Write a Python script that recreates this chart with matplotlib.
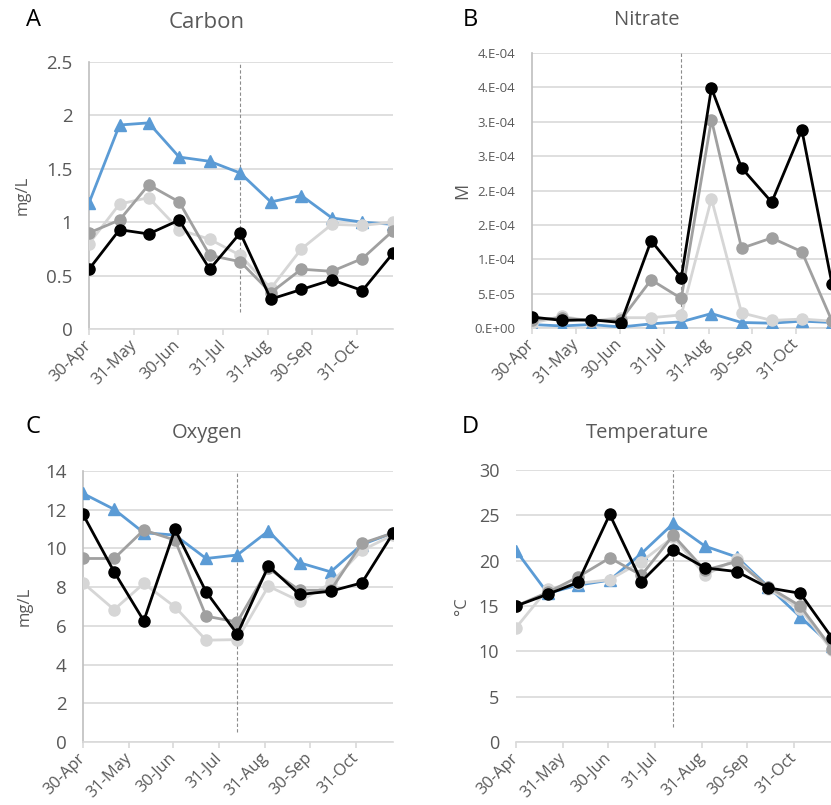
import matplotlib
matplotlib.use("Agg")
import matplotlib.pyplot as plt
import matplotlib.transforms as mtransforms
import numpy as np
import datetime as dt

plt.rcParams['font.family'] = ['Open Sans', 'DejaVu Sans']

# ---- data ----
sample_dates = ["2015-04-30", "2015-05-21", "2015-06-10", "2015-07-01", "2015-07-22",
                "2015-08-12", "2015-09-02", "2015-09-23", "2015-10-14", "2015-11-04",
                "2015-11-25"]
tick_dates = ["2015-04-30", "2015-05-31", "2015-06-30", "2015-07-31", "2015-08-31",
              "2015-09-30", "2015-10-31"]
tick_labels = ["30-Apr", "31-May", "30-Jun", "31-Jul", "31-Aug", "30-Sep", "31-Oct"]
marker_date = "2015-08-12"

carbon_blue = [1.18, 1.91, 1.93, 1.61, 1.57, 1.46, 1.19, 1.25, 1.04, 1.00, 0.98]
carbon_light = [0.80, 1.17, 1.23, 0.93, 0.84, 0.69, 0.38, 0.75, 0.98, 0.97, 1.00]
carbon_mid = [0.90, 1.02, 1.35, 1.19, 0.69, 0.63, 0.34, 0.56, 0.54, 0.66, 0.92]
carbon_black = [0.56, 0.93, 0.89, 1.02, 0.56, 0.90, 0.28, 0.37, 0.46, 0.36, 0.71]

nitrate_blue = [0.05e-4, 0.03e-4, 0.05e-4, 0.015e-4, 0.06e-4, 0.09e-4, 0.21e-4, 0.08e-4, 0.07e-4, 0.10e-4, 0.08e-4]
nitrate_light = [0.07e-4, 0.17e-4, 0.10e-4, 0.15e-4, 0.15e-4, 0.19e-4, 1.88e-4, 0.22e-4, 0.11e-4, 0.13e-4, 0.10e-4]
nitrate_mid = [0.12e-4, 0.15e-4, 0.10e-4, 0.12e-4, 0.70e-4, 0.43e-4, 3.03e-4, 1.16e-4, 1.31e-4, 1.11e-4, 0.10e-4]
nitrate_black = [0.16e-4, 0.11e-4, 0.12e-4, 0.08e-4, 1.27e-4, 0.73e-4, 3.49e-4, 2.33e-4, 1.83e-4, 2.88e-4, 0.64e-4]
nitrate_ticks = [0, 0.5e-4, 1.0e-4, 1.5e-4, 2.0e-4, 2.5e-4, 3.0e-4, 3.5e-4, 4.0e-4]
nitrate_tick_labels = ["0.E+00", "5.E-05", "1.E-04", "2.E-04", "2.E-04", "3.E-04",
                       "3.E-04", "4.E-04", "4.E-04"]

oxygen_blue = [12.84, 12.02, 10.81, 10.69, 9.48, 9.66, 10.90, 9.26, 8.79, 10.20, 10.80]
oxygen_light = [8.22, 6.84, 8.19, 6.98, 5.26, 5.29, 8.05, 7.28, 8.19, 9.90, 10.69]
oxygen_mid = [9.48, 9.48, 10.95, 10.43, 6.50, 6.20, 8.97, 7.84, 7.84, 10.26, 10.80]
oxygen_black = [11.76, 8.79, 6.26, 10.98, 7.76, 5.57, 9.09, 7.62, 7.79, 8.22, 10.78]

temp_blue = [21.1, 16.4, 17.3, 17.85, 20.8, 24.1, 21.6, 20.4, 17.1, 13.8, 10.6]
temp_light = [12.6, 16.9, 17.5, 17.9, 19.9, 22.6, 18.4, 20.2, 16.9, 14.7, 10.1]
temp_mid = [15.0, 16.5, 18.2, 20.3, 18.4, 22.8, 18.95, 19.9, 17.1, 15.0, 10.3]
temp_black = [15.0, 16.3, 17.6, 25.1, 17.7, 21.2, 19.2, 18.8, 17.0, 16.4, 11.5]

# ---- styling ----
BLUE = "#5B9BD5"
LIGHT = "#D6D6D6"
MID = "#A0A0A0"
BLACK = "#000000"
TXT = "#595959"
GRID = "#D9D9D9"

to_date = lambda s: dt.datetime.strptime(s, "%Y-%m-%d")
xd = [to_date(s) for s in sample_dates]
xt = [to_date(s) for s in tick_dates]
xm = to_date(marker_date)

fig = plt.figure(figsize=(8.31, 8.05), dpi=100)

panels = [
    dict(rect=[89/831, 1-329/805, (393-89)/831, (329-62)/805], letter="A", title="Carbon",
         ylabel="mg/L", series=(carbon_blue, carbon_light, carbon_mid, carbon_black),
         ylim=(0, 2.5), yticks=[0, 0.5, 1, 1.5, 2, 2.5], ylabels=["0", "0.5", "1", "1.5", "2", "2.5"],
         ytick_fs=13.5, leftspine=True, letter_xy=(33, 20), title_xy=(207, 23), ylab_x=23, title_fs=16,
         ylab_fs=12, dash_bottom=0.064),
    dict(rect=[532/831, 1-328/805, (832-532)/831, (328-53)/805], letter="B", title="Nitrate",
         ylabel="M", series=(nitrate_blue, nitrate_light, nitrate_mid, nitrate_black),
         ylim=(0, 4e-4), yticks=nitrate_ticks, ylabels=nitrate_tick_labels,
         ytick_fs=9.5, leftspine=True, letter_xy=(470, 20), title_xy=(647, 20), ylab_x=462, title_fs=14.5,
         ylab_fs=13, dash_bottom=0.06),
    dict(rect=[83/831, 1-742/805, (393-83)/831, (742-471)/805], letter="C", title="Oxygen",
         ylabel="mg/L", series=(oxygen_blue, oxygen_light, oxygen_mid, oxygen_black),
         ylim=(0, 14), yticks=[0, 2, 4, 6, 8, 10, 12, 14], ylabels=["0", "2", "4", "6", "8", "10", "12", "14"],
         ytick_fs=13.5, leftspine=True, letter_xy=(33, 427), title_xy=(207, 433), ylab_x=25, title_fs=14.5,
         ylab_fs=12, dash_bottom=0.037),
    dict(rect=[516/831, 1-742/805, (832-516)/831, (742-470)/805], letter="D", title="Temperature",
         ylabel="°C", series=(temp_blue, temp_light, temp_mid, temp_black),
         ylim=(0, 30), yticks=[0, 5, 10, 15, 20, 25, 30], ylabels=["0", "5", "10", "15", "20", "25", "30"],
         ytick_fs=13, leftspine=False, letter_xy=(470, 427), title_xy=(647, 433), ylab_x=462, title_fs=14.5,
         ylab_fs=12, dash_bottom=0.055),
]

shift = mtransforms.ScaledTranslation(5/100, 0, fig.dpi_scale_trans)

for p in panels:
    ax = fig.add_axes(p["rect"])
    blue, light, mid, black = p["series"]
    lw = 2.0
    ms = 8
    ax.plot(xd, blue, color=BLUE, lw=lw, marker="^", ms=ms, zorder=3)
    ax.plot(xd, light, color=LIGHT, lw=lw, marker="o", ms=ms, zorder=4)
    ax.plot(xd, mid, color=MID, lw=lw, marker="o", ms=ms, zorder=5)
    ax.plot(xd, black, color=BLACK, lw=lw, marker="o", ms=ms, zorder=6)
    ax.axvline(xm, ymin=p["dash_bottom"], ymax=1, color="#8C8C8C", lw=0.8, ls=(0, (3, 2)), zorder=2)

    ax.set_xlim(xd[0], xd[-1])
    ax.set_ylim(*p["ylim"])
    ax.set_yticks(p["yticks"])
    ax.set_yticklabels(p["ylabels"])
    ax.set_xticks(xt)
    ax.set_xticklabels(tick_labels, rotation=45, ha="right", va="center", rotation_mode="anchor")
    for lab in ax.get_xticklabels():
        lab.set_transform(lab.get_transform() + shift)
    ax.tick_params(axis="x", colors=GRID, length=4, width=1.2, labelcolor=TXT, labelsize=11.8, pad=6)
    ax.tick_params(axis="y", length=0, labelcolor=TXT, labelsize=p["ytick_fs"], pad=12)
    ax.grid(axis="y", color=GRID, lw=1.2)
    ax.set_axisbelow(True)
    for s in ["top", "right"]:
        ax.spines[s].set_visible(False)
    ax.spines["bottom"].set_color(GRID)
    ax.spines["bottom"].set_linewidth(1.2)
    if p["leftspine"]:
        ax.spines["left"].set_color("#BFBFBF")
        ax.spines["left"].set_linewidth(1.2)
    else:
        ax.spines["left"].set_visible(False)

    lx, ly = p["letter_xy"]
    fig.text(lx/831, 1-ly/805, p["letter"], fontsize=17, color="black", ha="center", va="center")
    tx, ty = p["title_xy"]
    fig.text(tx/831, 1-ty/805, p["title"], fontsize=p["title_fs"], color=TXT, ha="center", va="center")
    r = p["rect"]
    fig.text(p["ylab_x"]/831, r[1] + r[3]/2, p["ylabel"], fontsize=p["ylab_fs"], color=TXT,
             rotation=90, ha="center", va="center")

fig.savefig("out.png", dpi=100)
